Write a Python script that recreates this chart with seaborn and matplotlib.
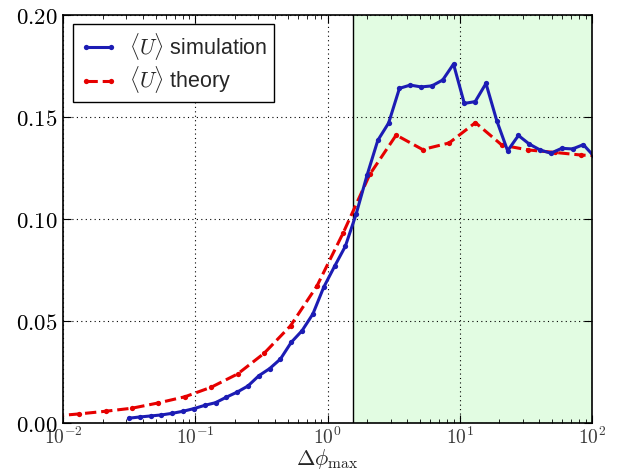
import numpy as np
import pandas as pd
import matplotlib
matplotlib.use("Agg")
import matplotlib.pyplot as plt
import matplotlib.ticker as mticker
import seaborn as sns

# ---- data ----
sim_x = [0.0314, 0.0379, 0.0458, 0.0553, 0.0668, 0.0806, 0.0974, 0.1176, 0.1420, 0.1714,
         0.2070, 0.2500, 0.3019, 0.3645, 0.4401, 0.5315, 0.6418, 0.7750, 0.9359, 1.130,
         1.365, 1.648, 1.990, 2.403, 2.902, 3.504, 4.231, 5.110, 6.170, 7.451,
         8.995, 10.86, 13.12, 15.84, 19.13, 23.10, 27.89, 33.68, 40.67, 49.11,
         59.29, 71.60, 86.46, 104.4]
sim_y = [0.0022, 0.0028, 0.0033, 0.0038, 0.0046, 0.0056, 0.0069, 0.0085, 0.0098, 0.0125,
         0.0150, 0.0180, 0.0230, 0.0265, 0.0312, 0.0394, 0.0451, 0.0533, 0.0664, 0.0766,
         0.0865, 0.1023, 0.1212, 0.1384, 0.1469, 0.1639, 0.1655, 0.1646, 0.1651, 0.1680,
         0.1758, 0.1565, 0.1574, 0.1663, 0.1480, 0.1333, 0.1408, 0.1366, 0.1337, 0.1321,
         0.1345, 0.1342, 0.1363, 0.1305]

theo_x = [0.00832, 0.01318, 0.02089, 0.03311, 0.05248, 0.08318, 0.1318, 0.2089, 0.3311,
          0.5248, 0.8318, 1.318, 2.089, 3.311, 5.248, 8.318, 13.18, 20.89, 33.11,
          52.48, 83.18, 131.8]
theo_y = [0.0032, 0.0043, 0.0056, 0.0071, 0.0097, 0.0127, 0.0174, 0.0239, 0.0340,
          0.0475, 0.0670, 0.0932, 0.1217, 0.1410, 0.1339, 0.1371, 0.1471, 0.1361, 0.1337,
          0.1325, 0.1312, 0.1306]

boundary = np.pi / 2
y_ticks = [0.00, 0.05, 0.10, 0.15, 0.20]
x_ticks = [1e-2, 1e-1, 1e0, 1e1, 1e2]

sim_label = r"$\langle U\rangle$ simulation"
theo_label = r"$\langle U\rangle$ theory"

# ---- style ----
sns.set_style("ticks")
plt.rcParams["font.family"] = ["Liberation Sans", "DejaVu Sans"]
plt.rcParams["mathtext.fontset"] = "cm"
plt.rcParams["xtick.direction"] = "in"
plt.rcParams["ytick.direction"] = "in"

fig = plt.figure(figsize=(6.32, 4.76), dpi=100)
ax = fig.add_axes([0.1002, 0.1120, 0.8360, 0.8571])

blue = "#1c1cb4"
red = "#e60000"

df_sim = pd.DataFrame({"x": sim_x, "y": sim_y})
df_theo = pd.DataFrame({"x": theo_x, "y": theo_y})

ax.axvspan(boundary, 1e3, color="#e2fce2", zorder=0.2, lw=0)
ax.axvline(boundary, color="black", lw=1.0, zorder=0.6)

sns.lineplot(data=df_sim, x="x", y="y", ax=ax, color=blue, lw=2.2, marker="o",
             markersize=3.8, markeredgewidth=0, label=sim_label, sort=False, zorder=3)
sns.lineplot(data=df_theo, x="x", y="y", ax=ax, color=red, lw=2.2, linestyle="--",
             dashes=(3, 2.2), marker="o", markersize=3.8, markeredgewidth=0,
             label=theo_label, sort=False, zorder=2)

ax.set_xscale("log")
ax.set_xlim(1e-2, 1e2)
ax.set_ylim(0, 0.2)
ax.set_xticks(x_ticks)
ax.set_yticks(y_ticks)
ax.xaxis.set_major_formatter(mticker.FuncFormatter(
    lambda v, p: r"$10^{%d}$" % int(round(np.log10(v)))))
ax.yaxis.set_major_formatter(mticker.FuncFormatter(lambda v, p: r"$%.2f$" % v))
ax.xaxis.set_minor_locator(mticker.LogLocator(base=10, subs=np.arange(2, 10), numticks=20))
ax.yaxis.set_minor_locator(mticker.NullLocator())

ax.tick_params(which="both", top=True, right=True, direction="in", colors="black")
ax.tick_params(which="major", length=6, width=0.8)
ax.tick_params(which="minor", length=3, width=0.6)
ax.tick_params(axis="y", labelsize=16.5, pad=4)
ax.tick_params(axis="x", labelsize=14, pad=3, labelcolor="#3a3a3a")

for s in ax.spines.values():
    s.set_visible(True)
    s.set_color("black")
    s.set_linewidth(1.2)
    s.set_zorder(5)

ax.set_axisbelow(True)
ax.grid(True, which="major", color="black", linestyle=(0, (1, 3)), linewidth=0.8)

ax.set_xlabel(r"$\Delta\phi_{\max}$", fontsize=16, labelpad=-1)
ax.set_ylabel("")

leg = ax.legend(loc="upper left", fontsize=15.5, frameon=True, fancybox=False,
                edgecolor="black", framealpha=1, borderaxespad=0.45, handlelength=1.75,
                handletextpad=0.55, numpoints=2, borderpad=0.3, labelspacing=0.12)
leg.get_frame().set_linewidth(1.0)

fig.savefig("out.png", dpi=100)
